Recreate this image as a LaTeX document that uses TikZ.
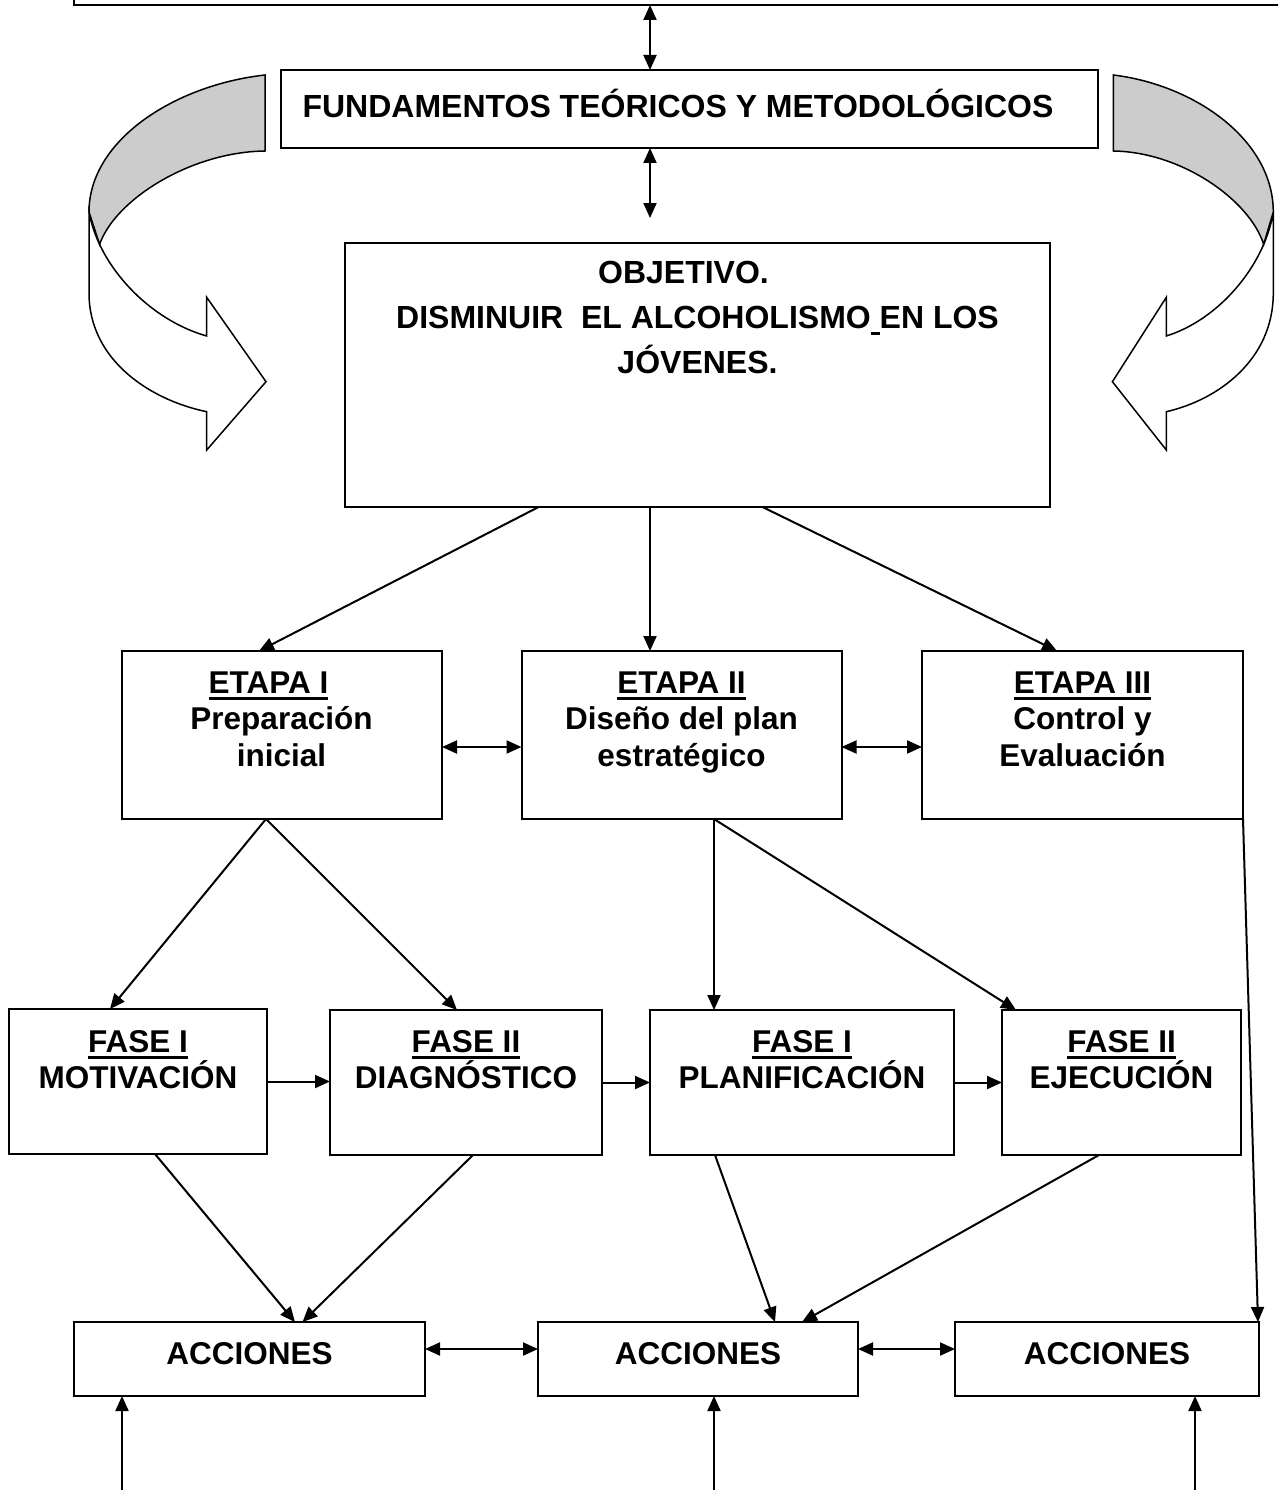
\documentclass[tikz,border=0pt]{standalone}
\usepackage{fontspec}
\setmainfont{Liberation Sans}
\usetikzlibrary{arrows.meta,calc}
\definecolor{bandgray}{RGB}{204,204,204}
\newcommand{\myul}[1]{\setbox0\hbox{#1}\rlap{\rule[-6.3pt]{\wd0}{3pt}}\box0}
\newcommand{\firstrule}{\rule{0pt}{32pt}}
\newcommand{\bentarrowshape}{%
  \filldraw[fill=white, line width=1.5pt] (176,212) -- (176,293)
     .. controls (176,360) and (115,400) .. (58.3,411.7) -- (58.3,450) -- (-1,381.7)
     -- (58.3,297.3) -- (58.3,336) .. controls (115,320) and (166,267) .. (176,212) -- cycle;
  \filldraw[fill=bandgray, line width=1.5pt] (0,75) .. controls (90,85) and (176,140) .. (176,212)
     -- (165.4,244.4) .. controls (150,200) and (75,152) .. (0,151) -- cycle;
}
\begin{document}
\begin{tikzpicture}[x=1pt, y=-1pt,
  box/.style={draw, line width=2pt, rectangle, inner sep=0pt, outer sep=0pt, anchor=north west},
  txt/.style={inner sep=0pt, align=center, font=\fontsize{31.5}{36.5}\selectfont\bfseries},
  lbl/.style={txt, anchor=north},
  con/.style={line width=2pt, -{Triangle[length=15pt,width=13pt]}},
  dbl/.style={line width=2pt, {Triangle[length=15pt,width=13pt]}-{Triangle[length=15pt,width=13pt]}}]
\useasboundingbox (0,0) rectangle (1278,1490);
\clip (0,0) rectangle (1278,1490);

% bent arrows
\begin{scope}[shift={(265,0)}, xscale=-1]
  \bentarrowshape
\end{scope}
\begin{scope}[shift={(1113.3,0)}, xscale=0.909]
  \bentarrowshape
\end{scope}

% boxes
\node[box, anchor=south west, minimum width=1300pt, minimum height=40pt] (top) at (74,5) {};
\node[box, minimum width=817pt, minimum height=78pt] (fund) at (281,70) {};
\node[txt, anchor=base, font=\fontsize{32}{36.5}\selectfont\bfseries] (fundt) at (678,118) {FUNDAMENTOS TEÓRICOS Y METODOLÓGICOS};

\node[box, minimum width=705pt, minimum height=264pt] (obj) at (345,243) {};
\node[lbl, font=\fontsize{32}{45}\selectfont\bfseries] (objt) at (697.5,251)
  {\firstrule OBJETIVO.\hspace*{28pt}\\DISMINUIR\ \ EL ALCOHOLISMO\myul{\ }EN LOS\\JÓVENES.};

\node[box, minimum width=320pt, minimum height=168pt] (e1) at (122,651) {};
\node[box, minimum width=320pt, minimum height=168pt] (e2) at (521.5,651) {};
\node[box, minimum width=321pt, minimum height=168pt] (e3) at (922,651) {};
\node[lbl] (e1t) at (281.5,661) {\firstrule\myul{ETAPA I}\hspace*{26pt}\\Preparación\\inicial};
\node[lbl] (e2t) at (681.5,661) {\firstrule\myul{ETAPA II}\\Diseño del plan\\estratégico};
\node[lbl] (e3t) at (1082.5,661) {\firstrule\myul{ETAPA III}\\Control y\\Evaluación};

\node[box, minimum width=258pt, minimum height=145pt] (f1) at (9,1009) {};
\node[box, minimum width=272pt, minimum height=145pt] (f2) at (330,1010) {};
\node[box, minimum width=304pt, minimum height=145pt] (f3) at (650,1010) {};
\node[box, minimum width=239pt, minimum height=145pt] (f4) at (1002,1010) {};
\node[lbl] (f1t) at (138,1020) {\firstrule\myul{FASE I}\\MOTIVACIÓN};
\node[lbl] (f2t) at (466,1020) {\firstrule\myul{FASE II}\\DIAGNÓSTICO};
\node[lbl] (f3t) at (802,1020) {\firstrule\myul{FASE I}\\PLANIFICACIÓN};
\node[lbl] (f4t) at (1121.5,1020) {\firstrule\myul{FASE II}\\EJECUCIÓN};

\node[box, minimum width=351pt, minimum height=74pt] (a1) at (74,1322) {};
\node[box, minimum width=320pt, minimum height=74pt] (a2) at (538,1322) {};
\node[box, minimum width=304pt, minimum height=74pt] (a3) at (955,1322) {};
\node[txt, anchor=base] (a1t) at (249.5,1364) {ACCIONES};
\node[txt, anchor=base] (a2t) at (698,1364) {ACCIONES};
\node[txt, anchor=base] (a3t) at (1107,1364) {ACCIONES};

% coordinates
\coordinate (fx) at ([xshift=-39.5pt]fund.north);
\coordinate (fxb) at ([xshift=-39.5pt]fund.south);
\coordinate (fend) at (650,218);
\coordinate (b1) at (122,1490);
\coordinate (b2) at (714,1490);
\coordinate (b3) at (1195,1490);

% connectors
\draw[dbl] (fx |- top.south) -- (fx);
\draw[dbl] (fxb) -- (fend);

\draw[con] ([xshift=193.6pt]obj.south west) -- ([xshift=137pt]e1.north west);
\draw[con] ([xshift=-47.5pt]obj.south) -- ([xshift=-31.5pt]e2.north);
\draw[con] ([xshift=417.5pt]obj.south west) -- ([xshift=135pt]e3.north west);

\draw[dbl] ([yshift=-12pt]e1.east) -- ([yshift=-12pt]e2.west);
\draw[dbl] ([yshift=-12pt]e2.east) -- ([yshift=-12pt]e3.west);

\draw[con] ([xshift=-16pt]e1.south) -- ([xshift=-28pt]f1.north);
\draw[con] ([xshift=-16pt]e1.south) -- ([xshift=-9pt]f2.north);
\draw[con] ([xshift=32.5pt]e2.south) -- ([xshift=-88pt]f3.north);
\draw[con] ([xshift=32.5pt]e2.south) -- ([xshift=14pt]f4.north west);
\draw[con] (e3.south east) -- ([xshift=-1pt]a3.north east);

\draw[con] (f1.east) -- (f1.east -| f2.west);
\draw[con] (f2.east) -- (f2.east -| f3.west);
\draw[con] (f3.east) -- (f3.east -| f4.west);

\draw[con] ([xshift=17pt]f1.south) -- ([xshift=45.5pt]a1.north);
\draw[con] ([xshift=7pt]f2.south) -- ([xshift=53pt]a1.north);
\draw[con] ([xshift=-87pt]f3.south) -- ([xshift=77pt]a2.north);
\draw[con] ([xshift=-22.5pt]f4.south) -- ([xshift=104pt]a2.north);

\draw[dbl] ([yshift=10pt]a1.east) -- ([yshift=10pt]a2.west);
\draw[dbl] ([yshift=10pt]a2.east) -- ([yshift=10pt]a3.west);

\draw[con] (b1) -- (b1 |- a1.south);
\draw[con] (b2) -- (b2 |- a2.south);
\draw[con] (b3) -- (b3 |- a3.south);
\end{tikzpicture}
\end{document}
